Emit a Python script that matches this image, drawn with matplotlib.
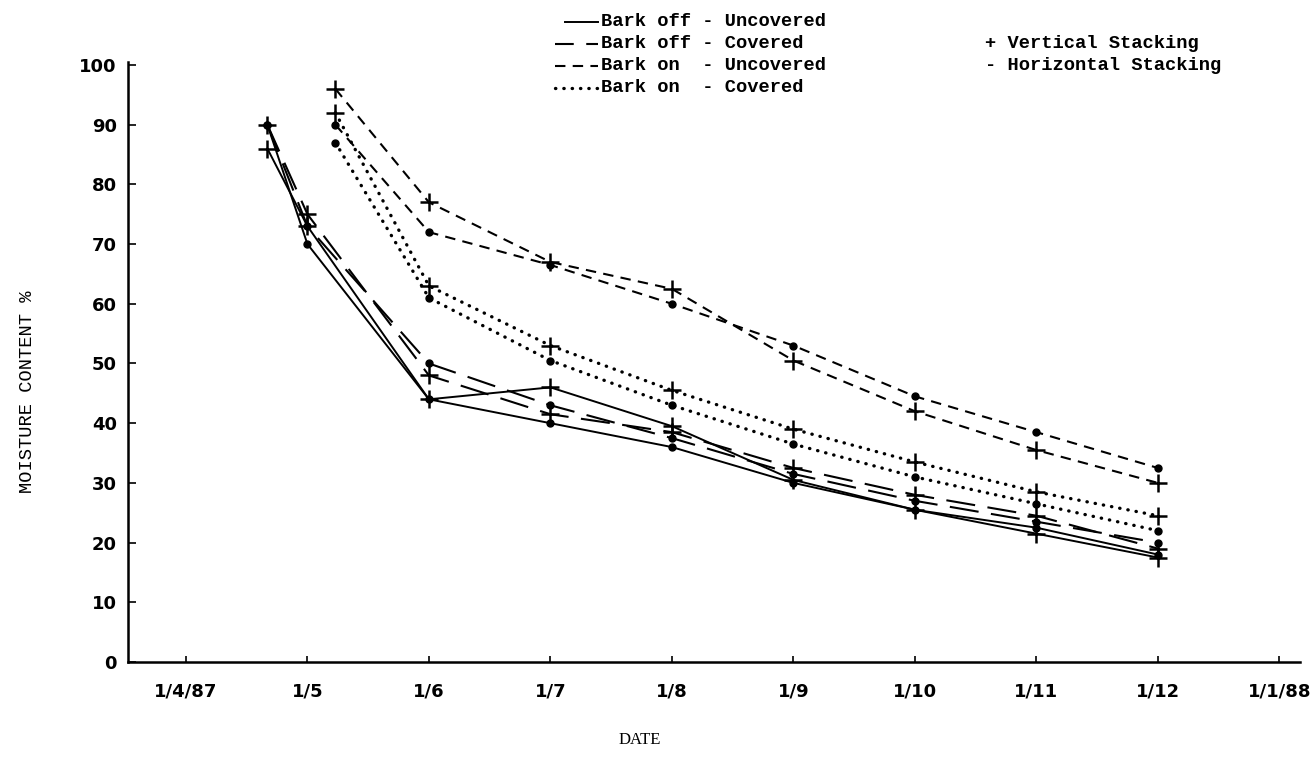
import matplotlib
matplotlib.use("Agg")
import matplotlib.pyplot as plt
from matplotlib.lines import Line2D

# months counted from 1 April 1987 (0) to 1 January 1988 (9)
tick_pos = [0, 1, 2, 3, 4, 5, 6, 7, 8, 9]
tick_labels = ['1/4/87', '1/5', '1/6', '1/7', '1/8', '1/9', '1/10', '1/11', '1/12', '1/1/88']

bark_off_x = [0.67, 1, 2, 3, 4, 5, 6, 7, 8]
bark_on_x = [1.23, 2, 3, 4, 5, 6, 7, 8]

# Bark off - Uncovered (solid)
off_unc_vert = [86, 73, 44, 46, 39.5, 30.5, 25.5, 21.5, 17.5]
off_unc_horz = [90, 70, 44, 40, 36, 30, 25.5, 22.5, 18]
# Bark off - Covered (long dash)
off_cov_vert = [90, 75, 48, 41.5, 38.5, 32.5, 28, 24.5, 19]
off_cov_horz = [90, 73, 50, 43, 37.5, 31.5, 27, 23.5, 20]
# Bark on - Uncovered (dashed)
on_unc_vert = [96, 77, 67, 62.5, 50.5, 42, 35.5, 30]
on_unc_horz = [90, 72, 66.5, 60, 53, 44.5, 38.5, 32.5]
# Bark on - Covered (dotted)
on_cov_vert = [92, 63, 53, 45.5, 39, 33.5, 28.5, 24.5]
on_cov_horz = [87, 61, 50.5, 43, 36.5, 31, 26.5, 22]

W, H = 1316, 760
fig = plt.figure(figsize=(W / 100, H / 100), dpi=100)
ax = fig.add_axes([128 / W, 1 - 662 / H, (1300 - 128) / W, (662 - 62) / H])

styles = {
    'solid': dict(linestyle='-', lw=1.4),
    'long': dict(linestyle=(0, (14, 6)), lw=1.5),
    'dash': dict(linestyle=(0, (5, 3.5)), lw=1.5),
    'dot': dict(linestyle=(0, (0.1, 2.4)), lw=2.4, dash_capstyle='round'),
}
vert = dict(marker='+', ms=13, mew=1.8)
horz = dict(marker='o', ms=5)

ax.plot(bark_off_x, off_unc_vert, color='black', **styles['solid'], **vert)
ax.plot(bark_off_x, off_unc_horz, color='black', **styles['solid'], **horz)
ax.plot(bark_off_x, off_cov_vert, color='black', **styles['long'], **vert)
ax.plot(bark_off_x, off_cov_horz, color='black', **styles['long'], **horz)
ax.plot(bark_on_x, on_unc_vert, color='black', **styles['dash'], **vert)
ax.plot(bark_on_x, on_unc_horz, color='black', **styles['dash'], **horz)
ax.plot(bark_on_x, on_cov_vert, color='black', **styles['dot'], **vert)
ax.plot(bark_on_x, on_cov_horz, color='black', **styles['dot'], **horz)

ax.set_xlim(-0.477, 9.17)
ax.set_ylim(0, 100.5)
ax.set_xticks(tick_pos)
ax.set_xticklabels(tick_labels)
ax.set_yticks(range(0, 101, 10))
for s in ['top', 'right']:
    ax.spines[s].set_visible(False)
for s in ['left', 'bottom']:
    ax.spines[s].set_linewidth(1.8)
ax.tick_params(axis='y', direction='in', length=6, width=1.2, pad=8,
               labelsize=13)
ax.tick_params(axis='x', direction='in', length=4, width=1.2, pad=15,
               labelsize=13)
for lab in ax.get_xticklabels() + ax.get_yticklabels():
    lab.set_fontweight('bold')

fig.text(28 / W, 1 - 392 / H, 'MOISTURE CONTENT %', rotation=90,
         ha='center', va='center', fontsize=13.5, family='Liberation Mono')
fig.text(640 / W, 1 - 740 / H, 'DATE', ha='center', va='center',
         fontsize=12, family='Liberation Serif')

# legend, drawn by hand like the typed original
leg_rows = [('solid', 'Bark off - Uncovered', 565),
            ('long', 'Bark off - Covered', 555),
            ('dash', 'Bark on  - Uncovered', 555),
            ('dot', 'Bark on  - Covered', 555)]
for i, (st, txt, x0) in enumerate(leg_rows):
    yy = 1 - (22 + 22 * i) / H
    kw = dict(styles[st])
    if st == 'long':
        kw['linestyle'] = (0, (9, 6))
    fig.add_artist(Line2D([x0 / W, 598 / W], [yy, yy], color='black',
                          transform=fig.transFigure, **kw))
    fig.text(601 / W, yy, txt, ha='left', va='center', fontsize=13.5,
             fontweight='bold', family='Liberation Mono')
fig.text(985 / W, 1 - 44 / H, '+ Vertical Stacking', ha='left', va='center',
         fontsize=13.5, fontweight='bold', family='Liberation Mono')
fig.text(985 / W, 1 - 66 / H, '- Horizontal Stacking', ha='left', va='center',
         fontsize=13.5, fontweight='bold', family='Liberation Mono')

fig.savefig('out.png', dpi=100)
